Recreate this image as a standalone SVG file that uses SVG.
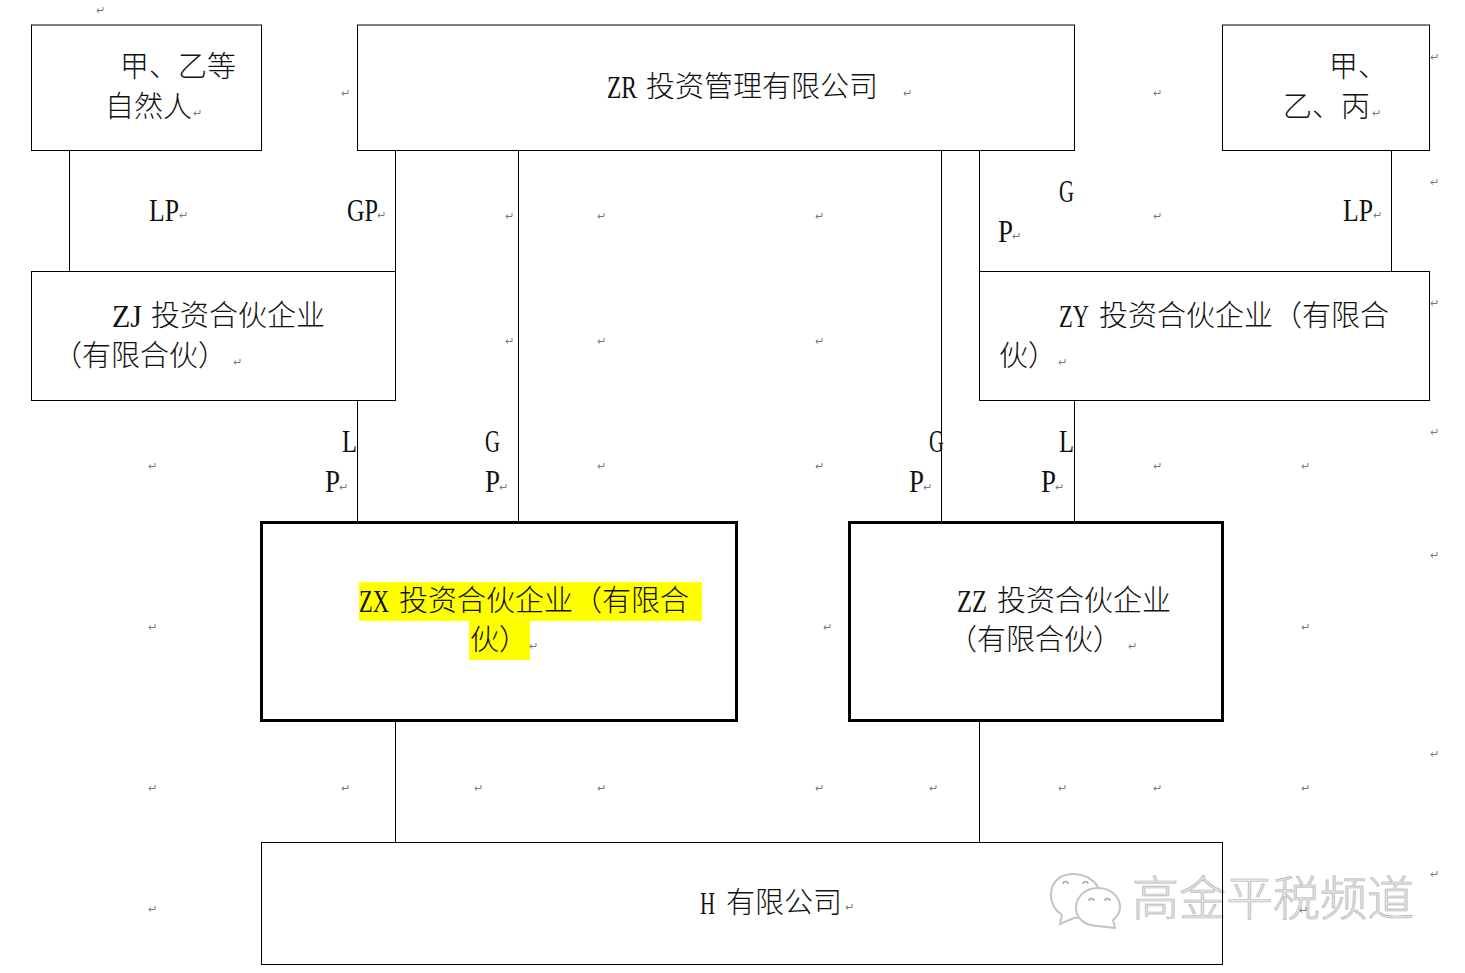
<svg xmlns="http://www.w3.org/2000/svg" xmlns:xlink="http://www.w3.org/1999/xlink" width="1465" height="973" viewBox="0 0 1465 973">
<style>
.b{fill:none;stroke:#000;stroke-width:1}
.k{fill:none;stroke:#000;stroke-width:3}
.c{stroke:#000;stroke-width:1;fill:none}
text{fill:#111;font-size:29px;font-family:"Noto Sans CJK SC","Noto Sans CJK JP",sans-serif;font-weight:300}
.l{font-family:"Liberation Serif",serif;font-size:31px;font-weight:400;fill:#111}
.w{font-size:47px;fill:#e6e6e6;stroke:#b4b4b4;stroke-width:.7}
.r{fill:none;stroke:#777;stroke-width:1}
.bub{fill:#fff;stroke:#c4c4c4;stroke-width:2}
.eye{fill:none;stroke:#aaa;stroke-width:1.5}
</style>
<defs>
<g id="ret"><path class="r" d="M3 -3V0.5H-3M-1 -1.5L-3.2 0.5L-1 2.5"/></g>
</defs>
<rect width="1465" height="973" fill="#fff"/>
<g id="watermark">
<path class="bub" d="M1073 874C1058 874 1051 884 1051 895C1051 904 1056 911 1062 915L1060 924L1074 918C1084 918 1098 912 1100 895C1100 884 1088 874 1073 874Z"/>
<path class="bub" d="M1098 888C1085 888 1076 897 1076 908C1076 919 1086 926 1098 926L1115 928L1113 920C1118 916 1120 912 1120 907C1120 897 1111 888 1098 888Z"/>
<path class="eye" d="M1063 884a2.500 2.500 0 0 1 5 0M1083 884a2.500 2.500 0 0 1 5 0M1089 901a2.500 2.500 0 0 1 5 0M1105 901a2.500 2.500 0 0 1 5 0"/>
<text class="w" x="1132" y="915">高金平税频道</text>
</g>
<g id="connectors">
<path class="c" d="M69.500 150V271M395.500 150V271M518.500 150V522M941.500 150V522M979.500 150V271M1391.500 150V271M357.500 400V522M1074.500 400V522M395.500 720V842M979.500 720V842"/>
</g>
<g id="node-jiayi">
<rect class="b" x="31.500" y="25" width="230" height="125.500"/>
<text x="120" y="77">甲、乙等</text>
<text x="105" y="117">自然人</text>
</g>
<g id="node-zr">
<rect class="b" x="357.500" y="25" width="717" height="125.500"/>
<text class="l" x="607" y="98" textLength="30" lengthAdjust="spacingAndGlyphs">ZR</text>
<text x="646" y="97">投资管理有限公司</text>
</g>
<g id="node-jiayibing">
<rect class="b" x="1222.500" y="25" width="207" height="125.500"/>
<text x="1329" y="77">甲、</text>
<text x="1283" y="117">乙、丙</text>
</g>
<g id="node-zj">
<rect class="b" x="31.500" y="271.500" width="364" height="129"/>
<text class="l" x="112" y="327" textLength="30" lengthAdjust="spacingAndGlyphs">ZJ</text>
<text x="151" y="326">投资合伙企业</text>
<text x="53" y="366">（有限合伙）</text>
</g>
<g id="node-zy">
<rect class="b" x="979.500" y="271.500" width="450" height="129"/>
<text class="l" x="1059" y="327" textLength="30" lengthAdjust="spacingAndGlyphs">ZY</text>
<text x="1099" y="326">投资合伙企业（有限合</text>
<text x="999" y="366">伙）</text>
</g>
<g id="node-zx">
<rect class="k" x="261.500" y="522.500" width="475" height="198"/>
<rect x="359" y="582" width="343" height="39" fill="#ff0"/>
<rect x="469" y="621" width="61" height="39" fill="#ff0"/>
<text class="l" x="359" y="612" textLength="30" lengthAdjust="spacingAndGlyphs">ZX</text>
<text x="399" y="611">投资合伙企业（有限合</text>
<text x="470" y="650">伙）</text>
</g>
<g id="node-zz">
<rect class="k" x="849.500" y="522.500" width="373" height="198"/>
<text class="l" x="957" y="612" textLength="30" lengthAdjust="spacingAndGlyphs">ZZ</text>
<text x="997" y="611">投资合伙企业</text>
<text x="948" y="650">（有限合伙）</text>
</g>
<g id="node-h">
<rect class="b" x="261.500" y="842.500" width="961" height="122"/>
<text class="l" x="700" y="914" textLength="15" lengthAdjust="spacingAndGlyphs">H</text>
<text x="726" y="913">有限公司</text>
</g>
<g id="labels">
<text class="l" x="149" y="221" textLength="30" lengthAdjust="spacingAndGlyphs">LP</text>
<text class="l" x="347" y="221" textLength="31" lengthAdjust="spacingAndGlyphs">GP</text>
<text class="l" x="1059" y="202" textLength="15" lengthAdjust="spacingAndGlyphs">G</text>
<text class="l" x="998" y="242" textLength="15" lengthAdjust="spacingAndGlyphs">P</text>
<text class="l" x="1343" y="221" textLength="30" lengthAdjust="spacingAndGlyphs">LP</text>
<text class="l" x="342" y="452" textLength="15" lengthAdjust="spacingAndGlyphs">L</text>
<text class="l" x="325" y="492" textLength="15" lengthAdjust="spacingAndGlyphs">P</text>
<text class="l" x="485" y="452" textLength="15" lengthAdjust="spacingAndGlyphs">G</text>
<text class="l" x="485" y="492" textLength="15" lengthAdjust="spacingAndGlyphs">P</text>
<text class="l" x="929" y="452" textLength="15" lengthAdjust="spacingAndGlyphs">G</text>
<text class="l" x="909" y="492" textLength="15" lengthAdjust="spacingAndGlyphs">P</text>
<text class="l" x="1059" y="452" textLength="15" lengthAdjust="spacingAndGlyphs">L</text>
<text class="l" x="1041" y="492" textLength="15" lengthAdjust="spacingAndGlyphs">P</text>
</g>
<g id="paragraph-marks">
<use xlink:href="#ret" x="100" y="10"/><use xlink:href="#ret" x="345" y="93"/><use xlink:href="#ret" x="197" y="113"/><use xlink:href="#ret" x="907" y="93"/><use xlink:href="#ret" x="1157" y="93"/><use xlink:href="#ret" x="1376" y="113"/><use xlink:href="#ret" x="1434" y="57"/><use xlink:href="#ret" x="1434" y="182"/><use xlink:href="#ret" x="183" y="215"/><use xlink:href="#ret" x="381" y="215"/><use xlink:href="#ret" x="509" y="216"/><use xlink:href="#ret" x="601" y="216"/><use xlink:href="#ret" x="819" y="216"/><use xlink:href="#ret" x="1016" y="236"/><use xlink:href="#ret" x="1157" y="216"/><use xlink:href="#ret" x="1377" y="215"/><use xlink:href="#ret" x="1434" y="303"/><use xlink:href="#ret" x="509" y="341"/><use xlink:href="#ret" x="601" y="341"/><use xlink:href="#ret" x="819" y="341"/><use xlink:href="#ret" x="237" y="362"/><use xlink:href="#ret" x="1062" y="362"/><use xlink:href="#ret" x="343" y="487"/><use xlink:href="#ret" x="503" y="487"/><use xlink:href="#ret" x="152" y="466"/><use xlink:href="#ret" x="601" y="466"/><use xlink:href="#ret" x="819" y="466"/><use xlink:href="#ret" x="927" y="487"/><use xlink:href="#ret" x="1059" y="487"/><use xlink:href="#ret" x="1157" y="466"/><use xlink:href="#ret" x="1305" y="466"/><use xlink:href="#ret" x="1434" y="432"/><use xlink:href="#ret" x="1434" y="555"/><use xlink:href="#ret" x="152" y="627"/><use xlink:href="#ret" x="533" y="646"/><use xlink:href="#ret" x="827" y="627"/><use xlink:href="#ret" x="1132" y="646"/><use xlink:href="#ret" x="1305" y="627"/><use xlink:href="#ret" x="152" y="788"/><use xlink:href="#ret" x="345" y="788"/><use xlink:href="#ret" x="478" y="788"/><use xlink:href="#ret" x="601" y="788"/><use xlink:href="#ret" x="819" y="788"/><use xlink:href="#ret" x="933" y="788"/><use xlink:href="#ret" x="1062" y="788"/><use xlink:href="#ret" x="1157" y="788"/><use xlink:href="#ret" x="1305" y="788"/><use xlink:href="#ret" x="1434" y="754"/><use xlink:href="#ret" x="849" y="907"/><use xlink:href="#ret" x="152" y="909"/><use xlink:href="#ret" x="1434" y="874"/><use xlink:href="#ret" x="1303" y="910"/>
</g>
</svg>
